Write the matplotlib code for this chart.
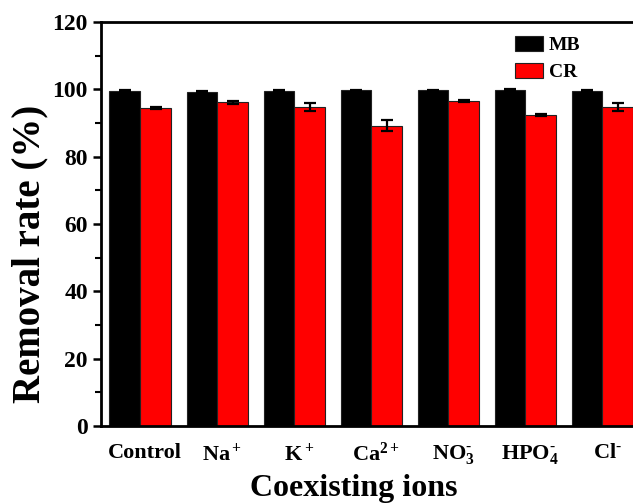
import matplotlib

matplotlib.use("Agg")
import matplotlib.pyplot as plt
import matplotlib.transforms as mtransforms
import numpy as np

ions = ["Control", "Na$^+$", "K$^+$", "Ca$^{2+}$", r"NO$_3^{\text{-}}$", r"HPO$_4^{\text{-}}$", r"Cl$^{\text{-}}$"]
mb = [99.5, 99.3, 99.5, 99.7, 99.7, 99.8, 99.5]
mb_err = [0.2, 0.2, 0.2, 0.2, 0.2, 0.2, 0.2]
cr = [94.5, 96.2, 94.9, 89.2, 96.7, 92.3, 94.9]
cr_err = [0.3, 0.4, 1.2, 1.6, 0.3, 0.3, 1.2]

plt.rcParams["font.family"] = "Liberation Serif"
plt.rcParams["font.weight"] = "bold"
plt.rcParams["mathtext.fontset"] = "custom"
plt.rcParams["mathtext.rm"] = "Liberation Serif:bold"
plt.rcParams["mathtext.it"] = "Liberation Serif:bold"
plt.rcParams["mathtext.bf"] = "Liberation Serif:bold"
plt.rcParams["mathtext.default"] = "rm"

fig = plt.figure(figsize=(6.33, 5.03), dpi=100)
ax = fig.add_axes([0.1596, 0.153, 0.853, 0.803])

x = np.arange(len(ions))
w = 0.4
err_kw = dict(ecolor="black", elinewidth=1.6, capsize=4, capthick=1.6)
ax.bar(x - w / 2, mb, w, yerr=mb_err, color="black", edgecolor="#222222", linewidth=0.8, error_kw=err_kw, label="MB")
ax.bar(x + w / 2, cr, w, yerr=cr_err, color="#ff0000", edgecolor="#222222", linewidth=0.8, error_kw=err_kw, label="CR")

ax.set_xlim(-0.51, 6.5)
ax.set_ylim(0, 120)
ax.set_yticks(np.arange(0, 121, 20))
ax.set_yticks(np.arange(10, 120, 20), minor=True)
ax.set_xticks(x)
ax.set_xticklabels(ions, fontsize=16, fontweight="bold")
ax.tick_params(axis="x", length=0, pad=12)
ax.tick_params(axis="y", which="major", direction="out", length=6, width=1.8, labelsize=17)
ax.tick_params(axis="y", which="minor", direction="out", length=4, width=1.5)
for side in ("left", "top", "bottom", "right"):
    ax.spines[side].set_linewidth(2)

# labels in the original sit a little right of the group centres
shift = mtransforms.ScaledTranslation(5 / 100, 0, fig.dpi_scale_trans)
for lbl in ax.get_xticklabels():
    lbl.set_transform(lbl.get_transform() + shift)

ax.set_ylabel("Removal rate (%)", fontsize=28, fontweight="bold")
ax.yaxis.set_label_coords(-0.097, 0.426)
ax.set_xlabel("Coexisting ions", fontsize=23, fontweight="bold")
ax.xaxis.set_label_coords(0.468, -0.118)

ax.legend(loc="upper right", bbox_to_anchor=(0.92, 1.01), frameon=False, fontsize=14,
          handlelength=1.45, handleheight=0.85, labelspacing=0.45, handletextpad=0.3)

fig.savefig("out.png", dpi=100)
